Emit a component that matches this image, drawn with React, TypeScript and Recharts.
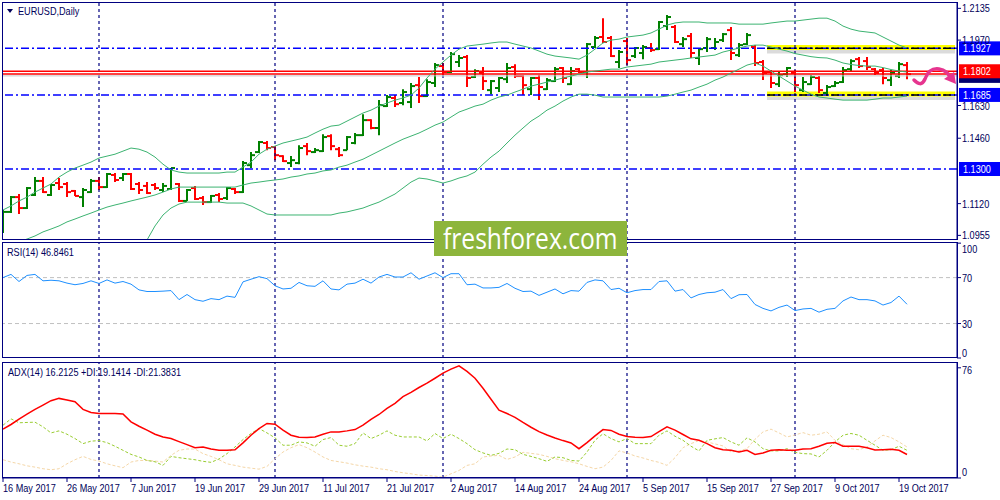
import React from "react";
import { ComposedChart, XAxis, YAxis, Bar, Line, ReferenceLine, ReferenceArea } from "recharts";

// EURUSD daily, 16 May 2017 - 20 Oct 2017
const dateTicks = [0, 8, 16, 24, 32, 40, 48, 56, 64, 72, 80, 88, 96, 104, 112];
const dateLabels = [
  "16 May 2017", "26 May 2017", "7 Jun 2017", "19 Jun 2017", "29 Jun 2017", "11 Jul 2017", "21 Jul 2017",
  "2 Aug 2017", "14 Aug 2017", "24 Aug 2017", "5 Sep 2017", "15 Sep 2017", "27 Sep 2017", "9 Oct 2017", "19 Oct 2017",
];
const monthStarts = [12, 34, 55, 78, 99];

const opens = [
  1.0983, 1.1077, 1.1154, 1.1097, 1.1165, 1.1238, 1.1165, 1.1227, 1.1222, 1.1186,
  1.1154, 1.1180, 1.1238, 1.1206, 1.1269, 1.1253, 1.1274, 1.1222, 1.1212, 1.1217,
  1.1191, 1.1196, 1.1222, 1.1134, 1.1201, 1.1149, 1.1128, 1.1165, 1.1149, 1.1196,
  1.1180, 1.1320, 1.1388, 1.1435, 1.1414, 1.1367, 1.1331, 1.1331, 1.1419, 1.1388,
  1.1393, 1.1471, 1.1403, 1.1398, 1.1435, 1.1476, 1.1554, 1.1513, 1.1627, 1.1669,
  1.1643, 1.1648, 1.1736, 1.1679, 1.1747, 1.1835, 1.1804, 1.1856, 1.1882, 1.1778,
  1.1799, 1.1710, 1.1721, 1.1767, 1.1830, 1.1783, 1.1715, 1.1773, 1.1715, 1.1757,
  1.1825, 1.1741, 1.1819, 1.1804, 1.1934, 1.1986, 1.1981, 1.1856, 1.1965, 1.1887,
  1.1903, 1.1929, 1.1923, 1.2043, 1.2038, 1.1949, 1.1991, 1.1877, 1.1929, 1.1929,
  1.1970, 1.2022, 1.1892, 1.1949, 1.1934, 1.1856, 1.1804, 1.1741, 1.1793, 1.1799,
  1.1710, 1.1741, 1.1773, 1.1695, 1.1731, 1.1752, 1.1819, 1.1871, 1.1861, 1.1819,
  1.1814, 1.1762, 1.1783, 1.1840,
];
const highs = [
  1.1087, 1.1160, 1.1170, 1.1206, 1.1258, 1.1258, 1.1222, 1.1253, 1.1232, 1.1191,
  1.1201, 1.1248, 1.1258, 1.1279, 1.1279, 1.1279, 1.1279, 1.1232, 1.1232, 1.1227,
  1.1227, 1.1305, 1.1227, 1.1196, 1.1212, 1.1160, 1.1165, 1.1175, 1.1206, 1.1201,
  1.1341, 1.1388, 1.1445, 1.1445, 1.1419, 1.1372, 1.1367, 1.1424, 1.1435, 1.1409,
  1.1481, 1.1481, 1.1414, 1.1471, 1.1487, 1.1585, 1.1559, 1.1658, 1.1684, 1.1684,
  1.1715, 1.1747, 1.1778, 1.1767, 1.1851, 1.1851, 1.1908, 1.1892, 1.1892, 1.1819,
  1.1830, 1.1762, 1.1778, 1.1851, 1.1845, 1.1788, 1.1778, 1.1788, 1.1773, 1.1830,
  1.1830, 1.1830, 1.1825, 1.1955, 1.1991, 1.2084, 1.1991, 1.1918, 1.1981, 1.1934,
  1.1944, 1.1955, 1.2069, 1.2100, 1.2048, 1.1986, 1.2007, 1.1929, 1.1986, 1.1981,
  1.2007, 1.2038, 1.1955, 1.2007, 1.1944, 1.1866, 1.1814, 1.1804, 1.1830, 1.1814,
  1.1778, 1.1788, 1.1783, 1.1736, 1.1757, 1.1830, 1.1871, 1.1882, 1.1882, 1.1825,
  1.1825, 1.1814, 1.1856, 1.1856,
];
const lows = [
  1.0968, 1.1071, 1.1066, 1.1092, 1.1160, 1.1175, 1.1160, 1.1191, 1.1154, 1.1160,
  1.1102, 1.1175, 1.1191, 1.1201, 1.1232, 1.1238, 1.1191, 1.1170, 1.1170, 1.1191,
  1.1180, 1.1191, 1.1128, 1.1134, 1.1139, 1.1113, 1.1123, 1.1128, 1.1139, 1.1170,
  1.1175, 1.1305, 1.1383, 1.1398, 1.1346, 1.1336, 1.1310, 1.1325, 1.1372, 1.1383,
  1.1388, 1.1398, 1.1362, 1.1398, 1.1429, 1.1471, 1.1507, 1.1476, 1.1622, 1.1622,
  1.1632, 1.1617, 1.1643, 1.1674, 1.1726, 1.1788, 1.1799, 1.1830, 1.1726, 1.1773,
  1.1710, 1.1689, 1.1700, 1.1747, 1.1773, 1.1684, 1.1684, 1.1658, 1.1710, 1.1752,
  1.1747, 1.1736, 1.1799, 1.1773, 1.1929, 1.1955, 1.1882, 1.1825, 1.1840, 1.1877,
  1.1871, 1.1908, 1.1918, 1.2022, 1.1955, 1.1934, 1.1877, 1.1840, 1.1908, 1.1918,
  1.1960, 1.1866, 1.1882, 1.1944, 1.1835, 1.1762, 1.1721, 1.1726, 1.1778, 1.1700,
  1.1700, 1.1736, 1.1695, 1.1684, 1.1726, 1.1747, 1.1804, 1.1825, 1.1814, 1.1788,
  1.1741, 1.1731, 1.1773, 1.1767,
];
const closes = [
  1.1077, 1.1154, 1.1097, 1.1201, 1.1238, 1.1180, 1.1217, 1.1206, 1.1180, 1.1160,
  1.1191, 1.1238, 1.1206, 1.1274, 1.1243, 1.1274, 1.1196, 1.1191, 1.1175, 1.1201,
  1.1212, 1.1305, 1.1134, 1.1191, 1.1144, 1.1128, 1.1160, 1.1144, 1.1201, 1.1180,
  1.1331, 1.1372, 1.1440, 1.1409, 1.1372, 1.1341, 1.1346, 1.1409, 1.1393, 1.1398,
  1.1466, 1.1419, 1.1372, 1.1466, 1.1476, 1.1554, 1.1513, 1.1632, 1.1674, 1.1637,
  1.1700, 1.1731, 1.1679, 1.1752, 1.1840, 1.1804, 1.1897, 1.1877, 1.1773, 1.1809,
  1.1757, 1.1757, 1.1773, 1.1825, 1.1783, 1.1736, 1.1773, 1.1726, 1.1762, 1.1819,
  1.1773, 1.1809, 1.1804, 1.1949, 1.1981, 1.1960, 1.1887, 1.1908, 1.1866, 1.1929,
  1.1934, 1.1918, 1.2064, 1.2090, 1.1960, 1.1975, 1.1903, 1.1923, 1.1975, 1.1960,
  1.2001, 1.1903, 1.1944, 1.1996, 1.1851, 1.1799, 1.1747, 1.1788, 1.1825, 1.1736,
  1.1752, 1.1778, 1.1710, 1.1726, 1.1747, 1.1814, 1.1861, 1.1835, 1.1830, 1.1799,
  1.1773, 1.1799, 1.1845, 1.1793,
];

// Bollinger bands (20)
const bbUpper = [
  1.1087, 1.1108, 1.1134, 1.1154, 1.1180, 1.1201, 1.1222, 1.1258, 1.1284, 1.1305,
  1.1320, 1.1336, 1.1357, 1.1367, 1.1377, 1.1393, 1.1409, 1.1403, 1.1388, 1.1362,
  1.1325, 1.1295, 1.1284, 1.1279, 1.1279, 1.1279, 1.1279, 1.1279, 1.1284, 1.1284,
  1.1310, 1.1336, 1.1377, 1.1403, 1.1419, 1.1435, 1.1445, 1.1455, 1.1466, 1.1487,
  1.1507, 1.1523, 1.1528, 1.1549, 1.1570, 1.1591, 1.1606, 1.1627, 1.1643, 1.1658,
  1.1669, 1.1684, 1.1721, 1.1773, 1.1819, 1.1856, 1.1892, 1.1923, 1.1939, 1.1944,
  1.1949, 1.1955, 1.1960, 1.1960, 1.1949, 1.1939, 1.1929, 1.1913, 1.1897, 1.1887,
  1.1882, 1.1877, 1.1871, 1.1892, 1.1923, 1.1955, 1.1970, 1.1975, 1.1986, 1.1991,
  1.1996, 1.2007, 1.2027, 1.2048, 1.2059, 1.2064, 1.2064, 1.2064, 1.2059, 1.2059,
  1.2059, 1.2059, 1.2053, 1.2053, 1.2053, 1.2053, 1.2059, 1.2064, 1.2069, 1.2069,
  1.2074, 1.2079, 1.2084, 1.2084, 1.2069, 1.2043, 1.2027, 1.2017, 1.2012, 1.2007,
  1.1986, 1.1965, 1.1944, 1.1929,
];
const bbMiddle = [
  1.0879, 1.0900, 1.0921, 1.0936, 1.0952, 1.0973, 1.0988, 1.1004, 1.1025, 1.1040,
  1.1056, 1.1071, 1.1087, 1.1102, 1.1113, 1.1123, 1.1134, 1.1144, 1.1154, 1.1165,
  1.1180, 1.1196, 1.1206, 1.1206, 1.1206, 1.1206, 1.1206, 1.1206, 1.1206, 1.1206,
  1.1217, 1.1227, 1.1232, 1.1238, 1.1243, 1.1248, 1.1258, 1.1264, 1.1274, 1.1279,
  1.1290, 1.1295, 1.1310, 1.1320, 1.1336, 1.1351, 1.1372, 1.1393, 1.1414, 1.1435,
  1.1455, 1.1471, 1.1487, 1.1507, 1.1528, 1.1544, 1.1570, 1.1596, 1.1611, 1.1627,
  1.1637, 1.1658, 1.1674, 1.1684, 1.1700, 1.1715, 1.1731, 1.1741, 1.1752, 1.1762,
  1.1773, 1.1783, 1.1793, 1.1804, 1.1809, 1.1814, 1.1819, 1.1819, 1.1830, 1.1835,
  1.1840, 1.1845, 1.1856, 1.1861, 1.1866, 1.1871, 1.1877, 1.1882, 1.1887, 1.1892,
  1.1908, 1.1918, 1.1929, 1.1939, 1.1944, 1.1944, 1.1934, 1.1923, 1.1913, 1.1900,
  1.1892, 1.1884, 1.1879, 1.1877, 1.1866, 1.1851, 1.1843, 1.1838, 1.1835, 1.1835,
  1.1827, 1.1817, 1.1809, 1.1804,
];
const bbLower = [
  1.0671, 1.0692, 1.0708, 1.0718, 1.0723, 1.0744, 1.0755, 1.0749, 1.0765, 1.0775,
  1.0791, 1.0807, 1.0817, 1.0838, 1.0848, 1.0853, 1.0858, 1.0884, 1.0931, 1.1004,
  1.1061, 1.1097, 1.1118, 1.1128, 1.1128, 1.1128, 1.1128, 1.1128, 1.1123, 1.1123,
  1.1123, 1.1108, 1.1087, 1.1066, 1.1061, 1.1061, 1.1061, 1.1061, 1.1061, 1.1061,
  1.1061, 1.1061, 1.1071, 1.1077, 1.1087, 1.1097, 1.1113, 1.1128, 1.1149, 1.1170,
  1.1201, 1.1232, 1.1253, 1.1248, 1.1238, 1.1227, 1.1238, 1.1253, 1.1264, 1.1284,
  1.1325, 1.1362, 1.1393, 1.1435, 1.1476, 1.1513, 1.1549, 1.1575, 1.1606, 1.1627,
  1.1653, 1.1674, 1.1689, 1.1689, 1.1684, 1.1674, 1.1674, 1.1674, 1.1674, 1.1674,
  1.1674, 1.1674, 1.1674, 1.1679, 1.1689, 1.1700, 1.1710, 1.1726, 1.1741, 1.1762,
  1.1778, 1.1799, 1.1819, 1.1840, 1.1851, 1.1835, 1.1809, 1.1783, 1.1757, 1.1731,
  1.1710, 1.1689, 1.1674, 1.1669, 1.1663, 1.1658, 1.1658, 1.1658, 1.1658, 1.1663,
  1.1669, 1.1669, 1.1674, 1.1679,
];

const rsi = [
  70.0, 72.8, 66.6, 71.9, 72.8, 67.2, 67.7, 67.2, 65.2, 63.8,
  64.9, 67.2, 64.9, 68.0, 65.2, 66.6, 64.3, 59.3, 57.9, 57.9,
  58.2, 58.7, 50.8, 55.3, 50.8, 49.4, 51.7, 50.8, 53.9, 52.8,
  66.3, 68.6, 70.8, 69.1, 62.9, 60.1, 60.7, 65.8, 62.9, 62.4,
  67.2, 60.1, 59.3, 64.3, 65.2, 68.6, 65.2, 70.5, 72.8, 70.5,
  70.5, 74.2, 68.6, 71.4, 74.2, 70.0, 73.4, 73.4, 63.8, 64.3,
  61.0, 61.0, 61.5, 64.9, 60.7, 57.9, 58.2, 54.5, 57.3, 60.1,
  55.9, 58.7, 58.2, 65.8, 68.0, 67.2, 59.6, 60.7, 56.8, 58.7,
  59.6, 59.6, 66.6, 67.2, 58.2, 59.6, 52.3, 55.3, 56.8, 57.3,
  59.6, 51.7, 55.1, 55.3, 46.6, 43.2, 41.0, 44.1, 46.1, 41.3,
  42.7, 43.2, 39.9, 42.4, 43.2, 49.7, 53.1, 50.8, 50.8, 49.7,
  46.1, 48.3, 53.9, 46.8,
];

const adx = [
  33.7, 36.9, 40.6, 44.1, 47.3, 50.3, 53.3, 54.9, 53.8, 52.6,
  47.3, 45.2, 44.5, 44.5, 44.5, 44.1, 38.7, 35.7, 33.0, 30.2,
  28.3, 27.2, 25.1, 23.0, 20.9, 21.4, 20.0, 19.1, 19.1, 19.5,
  24.2, 29.5, 34.1, 37.6, 37.1, 33.0, 29.5, 28.1, 27.9, 28.3,
  30.2, 31.8, 31.8, 32.5, 33.4, 36.4, 40.4, 43.8, 48.0, 51.5,
  56.1, 59.1, 62.4, 65.4, 68.8, 72.3, 75.1, 77.4, 73.5, 68.8,
  61.9, 54.3, 46.8, 44.5, 41.8, 38.3, 35.0, 32.0, 29.7, 27.6,
  25.8, 24.2, 20.2, 24.4, 29.1, 33.4, 32.8, 30.2, 28.6, 28.1,
  27.9, 28.6, 32.0, 35.3, 33.0, 30.0, 27.0, 26.0, 23.7, 20.9,
  19.5, 19.1, 17.9, 19.1, 16.3, 17.3, 19.1, 19.5, 19.1, 19.1,
  20.0, 20.2, 21.9, 24.0, 24.4, 21.9, 21.9, 21.9, 20.9, 19.3,
  19.5, 19.8, 19.1, 16.2,
];
const plusDi = [
  36.4, 40.8, 38.1, 38.3, 38.5, 35.3, 31.1, 32.5, 30.2, 27.2,
  23.7, 25.4, 25.8, 24.4, 21.9, 19.1, 16.3, 14.5, 12.1, 11.2,
  8.7, 14.9, 14.0, 13.3, 12.6, 11.5, 10.8, 13.1, 16.8, 21.4,
  26.5, 30.7, 34.1, 31.1, 27.7, 22.6, 22.6, 24.9, 24.2, 21.9,
  26.5, 27.9, 22.6, 21.9, 23.7, 31.1, 27.2, 29.5, 32.5, 29.5,
  28.3, 28.3, 28.3, 25.6, 30.7, 27.2, 30.2, 27.2, 23.7, 19.5,
  17.3, 15.6, 17.0, 20.0, 19.5, 16.3, 14.9, 13.3, 11.5, 14.5,
  14.0, 12.1, 11.7, 17.9, 26.0, 30.5, 27.2, 24.9, 27.2, 23.7,
  23.7, 23.7, 29.5, 32.5, 28.8, 26.0, 21.9, 18.7, 26.0, 27.0,
  27.9, 24.9, 22.6, 27.7, 24.9, 20.2, 18.7, 18.7, 20.2, 17.7,
  16.8, 16.6, 14.5, 19.1, 24.9, 29.5, 30.7, 29.5, 26.0, 22.6,
  19.1, 19.5, 21.9, 19.1,
];
const minusDi = [
  12.6, 11.0, 9.8, 8.4, 7.5, 6.4, 5.7, 6.4, 9.8, 12.6,
  14.9, 12.8, 11.7, 9.8, 8.4, 7.1, 11.0, 12.1, 12.1, 11.7,
  11.0, 15.6, 19.1, 20.0, 20.0, 16.8, 14.9, 12.6, 9.8, 8.7,
  7.5, 6.8, 6.1, 8.0, 13.3, 17.9, 20.9, 23.0, 20.9, 17.9,
  14.5, 12.1, 11.2, 10.3, 9.1, 8.2, 7.5, 6.4, 5.7, 4.5,
  3.6, 2.9, 2.0, 1.7, 1.3, 0.6, 2.9, 5.2, 8.7, 9.8,
  14.5, 15.2, 15.6, 12.8, 14.5, 17.7, 17.0, 16.3, 14.9, 13.3,
  12.1, 11.2, 9.8, 8.0, 6.4, 7.5, 12.1, 18.7, 17.3, 15.2,
  13.8, 12.1, 10.8, 8.7, 14.0, 20.9, 23.7, 25.8, 24.9, 23.5,
  22.1, 17.9, 18.7, 20.2, 26.7, 31.8, 33.7, 31.1, 28.3, 29.7,
  31.3, 29.5, 30.2, 31.8, 26.0, 23.0, 20.2, 19.5, 21.4, 25.6,
  29.5, 27.9, 24.9, 21.4,
];

const priceTicks = [1.2135, 1.197, 1.163, 1.146, 1.112, 1.0955];
const resistance = 1.1927;
const support = 1.1685;
const level1130 = 1.13;

const rows = opens.map((o, i) => ({
  idx: i,
  open: o,
  high: highs[i],
  low: lows[i],
  close: closes[i],
  range: [lows[i], highs[i]],
  upper: bbUpper[i],
  middle: bbMiddle[i],
  lower: bbLower[i],
  rsi: rsi[i],
  adx: adx[i],
  plusDi: plusDi[i],
  minusDi: minusDi[i],
}));

const NAVY = "#000080";
const TXT = "#00005a";
const FONT = "'Liberation Sans', Arial, sans-serif";
const SQUEEZE = 0.83;
const X_DOMAIN: [number, number] = [-0.125, 119.25];
const BAND = "#3cb371";

// MT4 fonts are narrow, so every label is squeezed horizontally
const NarrowText = ({ x, y, fill = TXT, size = 11, children }: any) => (
  <text
    transform={`translate(${x} ${y}) scale(${SQUEEZE} 1)`}
    fill={fill}
    fontSize={size}
    fontFamily={FONT}
    textAnchor="start"
  >
    {children}
  </text>
);

const OhlcBar = (props: any) => {
  const { x, width, y, height, payload } = props;
  if (!payload) return null;
  const cx = Math.round(x + width / 2);
  const top = Math.min(y, y + height);
  const h = Math.abs(height);
  const span = payload.high - payload.low || 1;
  const py = (v: number) => top + ((payload.high - v) / span) * h;
  const c = payload.close >= payload.open ? "#008000" : "#ff0000";
  return (
    <g>
      <line x1={cx} x2={cx} y1={top} y2={top + h} stroke={c} strokeWidth={2} />
      <line x1={cx - 4} x2={cx} y1={py(payload.open)} y2={py(payload.open)} stroke={c} strokeWidth={2} />
      <line x1={cx} x2={cx + 4} y1={py(payload.close)} y2={py(payload.close)} stroke={c} strokeWidth={2} />
    </g>
  );
};

const PriceTag = (props: any) => {
  const { viewBox, text, bg, dy = 0 } = props;
  if (!viewBox) return null;
  const x = viewBox.x + viewBox.width + 2;
  const y = viewBox.y + dy;
  return (
    <g>
      <rect x={x} y={y - 7} width={41} height={14} fill={bg} />
      {text ? <NarrowText x={x + 4} y={y + 4} fill="#ffffff">{text}</NarrowText> : null}
    </g>
  );
};

const AxisTick = (props: any) => {
  const { x, y, payload, fmt, shift } = props;
  const dy = shift ? shift(payload.value) : 4;
  return <NarrowText x={x} y={y + dy}>{fmt ? fmt(payload.value) : String(payload.value)}</NarrowText>;
};

const DateTick = (props: any) => {
  const { x, y, payload } = props;
  const k = dateTicks.indexOf(payload.value);
  return <NarrowText x={x} y={y + 8}>{dateLabels[k]}</NarrowText>;
};

const monthLines = () =>
  monthStarts.map((m) => (
    <ReferenceLine key={"m" + m} x={m} stroke={NAVY} strokeDasharray="3 3" strokeWidth={1.2} />
  ));

const dashDot = "8 3 2 3";

export default function App() {
  return (
    <div style={{ position: "absolute", left: 0, top: 0, width: 1000, height: 500, background: "#fff", overflow: "hidden" }}>
      {/* price panel */}
      <div style={{ position: "absolute", left: 0, top: 0 }}>
        <ComposedChart width={1000} height={242} data={rows} margin={{ top: 2, right: 0, bottom: 2, left: 2 }}>
          <XAxis dataKey="idx" type="number" domain={X_DOMAIN} allowDataOverflow hide />
          <YAxis
            orientation="right"
            width={43}
            domain={[1.0931, 1.2168]}
            allowDataOverflow
            ticks={priceTicks}
            interval={0}
            tickSize={4}
            tickMargin={1}
            axisLine={{ stroke: NAVY }}
            tickLine={{ stroke: NAVY }}
            tick={<AxisTick fmt={(v: number) => v.toFixed(4)} />}
          />
          {monthLines()}
          <ReferenceArea x1={95.5} x2={119} y1={1.1900} y2={1.1919} fill="#707070" fillOpacity={0.25} stroke="none" />
          <ReferenceArea x1={95.5} x2={119} y1={1.1919} y2={1.1945} fill="#ffff00" fillOpacity={1} stroke="none" />
          <ReferenceArea x1={95.5} x2={119} y1={1.1658} y2={1.1677} fill="#707070" fillOpacity={0.25} stroke="none" />
          <ReferenceArea x1={95.5} x2={119} y1={1.1677} y2={1.1703} fill="#ffff00" fillOpacity={1} stroke="none" />
          <ReferenceLine y={level1130} stroke="#0000ff" strokeWidth={1.5} strokeDasharray={dashDot} label={<PriceTag text="1.1300" bg="#0000ff" />} />
          <ReferenceLine y={resistance} stroke="#0000ff" strokeWidth={1.5} strokeDasharray={dashDot} label={<PriceTag text="1.1927" bg="#0000ff" />} />
          <ReferenceLine y={support} stroke="#0000ff" strokeWidth={1.5} strokeDasharray={dashDot} label={<PriceTag text="1.1685" bg="#0000ff" />} />
          <ReferenceLine segment={[{ x: 95.5, y: resistance }, { x: 119, y: resistance }]} stroke="#000000" strokeWidth={1.5} strokeDasharray={dashDot} />
          <ReferenceLine segment={[{ x: 95.5, y: support }, { x: 119, y: support }]} stroke="#000000" strokeWidth={1.5} strokeDasharray={dashDot} />
          <ReferenceLine y={1.1784} stroke="#c8c8c8" strokeWidth={1} label={<PriceTag bg="#000070" />} />
          <ReferenceLine y={1.1794} stroke="#ff0000" strokeWidth={1.5} />
          <ReferenceLine y={1.1808} stroke="#ff0000" strokeWidth={1.5} label={<PriceTag text="1.1802" bg="#ff0000" />} />
          <Line dataKey="upper" stroke={BAND} strokeWidth={1} dot={false} isAnimationActive={false} />
          <Line dataKey="middle" stroke={BAND} strokeWidth={1} dot={false} isAnimationActive={false} />
          <Line dataKey="lower" stroke={BAND} strokeWidth={1} dot={false} isAnimationActive={false} />
          <Bar dataKey="range" barSize={8} shape={<OhlcBar />} isAnimationActive={false} />
        </ComposedChart>
      </div>

      {/* RSI panel */}
      <div style={{ position: "absolute", left: 0, top: 240 }}>
        <ComposedChart width={1000} height={120} data={rows} margin={{ top: 2, right: 0, bottom: 2, left: 2 }}>
          <XAxis dataKey="idx" type="number" domain={X_DOMAIN} allowDataOverflow hide />
          <YAxis
            orientation="right"
            width={43}
            domain={[0, 101]}
            allowDataOverflow
            ticks={[100, 70, 30, 0]}
            interval={0}
            tickSize={4}
            tickMargin={1}
            axisLine={{ stroke: NAVY }}
            tickLine={{ stroke: NAVY }}
            tick={<AxisTick shift={(v: number) => (v === 100 ? 10 : v === 0 ? -1 : 4)} />}
          />
          {monthLines()}
          <ReferenceLine y={70} stroke="#c0c0c0" strokeDasharray="4 3" />
          <ReferenceLine y={30} stroke="#c0c0c0" strokeDasharray="4 3" />
          <Line dataKey="rsi" stroke="#1e90ff" strokeWidth={1} dot={false} isAnimationActive={false} />
        </ComposedChart>
      </div>

      {/* ADX panel */}
      <div style={{ position: "absolute", left: 0, top: 360 }}>
        <ComposedChart width={1000} height={140} data={rows} margin={{ top: 2, right: 0, bottom: 0, left: 2 }}>
          <XAxis
            dataKey="idx"
            type="number"
            domain={X_DOMAIN}
            allowDataOverflow
            ticks={dateTicks}
            interval={0}
            height={22}
            tickSize={4}
            tickMargin={2}
            axisLine={{ stroke: NAVY }}
            tickLine={{ stroke: NAVY }}
            tick={<DateTick />}
          />
          <YAxis
            orientation="right"
            width={43}
            domain={[0, 80]}
            allowDataOverflow
            ticks={[76, 0]}
            interval={0}
            tickSize={4}
            tickMargin={1}
            axisLine={{ stroke: NAVY }}
            tickLine={{ stroke: NAVY }}
            tick={<AxisTick shift={(v: number) => (v === 0 ? -2 : 6)} />}
          />
          {monthLines()}
          <Line dataKey="minusDi" stroke="#f5d7a8" strokeWidth={1} strokeDasharray="3 2" dot={false} isAnimationActive={false} />
          <Line dataKey="plusDi" stroke="#9acd32" strokeWidth={1} strokeDasharray="3 2" dot={false} isAnimationActive={false} />
          <Line dataKey="adx" stroke="#ff0000" strokeWidth={1.5} dot={false} isAnimationActive={false} />
        </ComposedChart>
      </div>

      {/* frames, titles, annotation */}
      <svg width={1000} height={500} style={{ position: "absolute", left: 0, top: 0, pointerEvents: "none" }}>
        <rect x={2.5} y={2.5} width={955} height={237} fill="none" stroke={NAVY} strokeWidth={1} />
        <rect x={2.5} y={242.5} width={955} height={115} fill="none" stroke={NAVY} strokeWidth={1} />
        <rect x={2.5} y={362.5} width={955} height={115} fill="none" stroke={NAVY} strokeWidth={1} />
        <polygon points="7,9 13,9 10,13" fill={TXT} />
        <NarrowText x={18} y={15}>EURUSD,Daily</NarrowText>
        <NarrowText x={7} y={256}>RSI(14) 46.8461</NarrowText>
        <NarrowText x={8} y={376}>ADX(14) 16.2125 +DI:19.1414 -DI:21.3831</NarrowText>
        <path
          d="M 914 80 C 918 84, 922 86, 925 79 C 928 71, 932 68, 939 69 C 946 70, 949 74, 951 79"
          fill="none"
          stroke="#e6358f"
          strokeWidth={3.5}
          strokeLinecap="round"
        />
        <polygon points="944,79 956,84 954,72" fill="#e6358f" />
      </svg>

      <div
        style={{
          position: "absolute",
          left: 434,
          top: 221,
          width: 193,
          height: 35,
          background: "#8db53c",
        }}
      >
        <div
          style={{
            position: "absolute",
            left: 9,
            top: 2,
            fontFamily: "'Open Sans', sans-serif",
            fontSize: 30,
            lineHeight: "30px",
            color: "#ffffff",
            whiteSpace: "nowrap",
            transform: "scaleX(0.82)",
            transformOrigin: "left top",
          }}
        >
          freshforex.com
        </div>
      </div>
    </div>
  );
}
